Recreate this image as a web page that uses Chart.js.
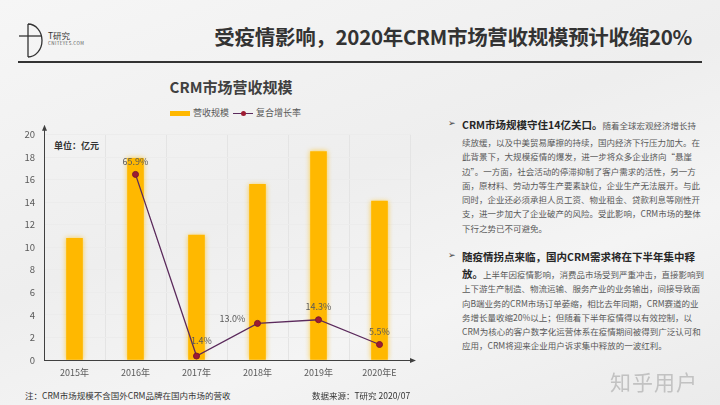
<!DOCTYPE html>
<html>
<head>
<meta charset="utf-8">
<script src="https://cdn.jsdelivr.net/npm/chart.js@4"></script>
<style>
  html, body { margin: 0; padding: 0; }
  body {
    width: 720px; height: 405px; position: relative; overflow: hidden;
    font-family: "Noto Sans CJK SC", "Noto Sans", sans-serif;
    background: linear-gradient(160deg, #f6f6f6 0%, #eeeeee 45%, #f4f4f4 70%, #ebebeb 100%);
  }
  .abs { position: absolute; white-space: nowrap; }
  #title { right: 28px; top: 21px; font-size: 20.5px; font-weight: bold; color: #333; letter-spacing: -0.3px; }
  #rule { left: 18px; top: 61px; width: 684px; height: 2px; background: #333; }
  #logoT { left: 48px; top: 29px; font-size: 8.5px; color: #333; }
  #logoU { left: 48px; top: 40px; font-size: 4.5px; color: #555; letter-spacing: 0.4px; }
  #chartTitle { left: 0; width: 462px; top: 76px; text-align: center; font-size: 15px; font-weight: bold; color: #404040; }
  .leg { top: 106px; font-size: 9px; color: #595959; }
  #unit { left: 54px; top: 139px; font-size: 9px; font-weight: bold; color: #333; }
  #chartBox { position: absolute; left: 0; top: 120px; width: 420px; height: 265px; }
  .para { position: absolute; left: 462px; width: 230px; color: #595959; font-size: 8.5px; }
  .para div { white-space: nowrap; text-align: justify; text-align-last: justify; height: 14.3px; line-height: 14.3px; }
  .para div.first { height: 20px; line-height: 20px; }
  .para b { color: #262626; font-size: 10.5px; }
  .bullet { position: absolute; left: 448px; font-size: 9px; color: #404040; font-family: "DejaVu Sans", sans-serif; }
  .foot { top: 389px; font-size: 8.5px; color: #333; }
  #mark { left: 610px; top: 366px; font-size: 21px; color: #c2c2c2; letter-spacing: 1px; }
</style>
</head>
<body>
<svg class="abs" style="left:17px;top:22px" width="30" height="38">
  <path d="M11 2 L11 35 M11 2 A14 16.5 0 0 1 11 35" fill="none" stroke="#333" stroke-width="1.3"/>
  <path d="M2 14 L25 14" stroke="#333" stroke-width="1.3"/>
</svg>
<div class="abs" id="logoT">T研究</div>
<div class="abs" id="logoU">CNITEYES.COM</div>
<div class="abs" id="title">受疫情影响，2020年CRM市场营收规模预计收缩20%</div>
<div class="abs" id="rule"></div>

<div class="abs" id="chartTitle">CRM市场营收规模</div>
<div class="abs" style="left:170px;top:111px;width:20px;height:5px;background:#FFB800"></div>
<div class="abs leg" style="left:193px">营收规模</div>
<div class="abs" style="left:233px;top:113px;width:20px;height:1.3px;background:#5B2A5C"></div>
<div class="abs" style="left:240.5px;top:111px;width:5px;height:5px;border-radius:50%;background:#9E1B32"></div>
<div class="abs leg" style="left:256px">复合增长率</div>
<div class="abs" id="unit">单位：亿元</div>

<div id="chartBox"><canvas id="c" width="420" height="265"></canvas></div>

<div class="bullet" style="top:118px">➢</div>
<div class="para" style="top:115px">
  <div class="first"><b>CRM市场规模守住14亿关口。</b>随着全球宏观经济增长持</div>
  <div>续放缓，以及中美贸易摩擦的持续，国内经济下行压力加大。在</div>
  <div>此背景下，大规模疫情的爆发，进一步将众多企业挤向“悬崖</div>
  <div>边”。一方面，社会活动的停滞抑制了客户需求的活性，另一方</div>
  <div>面，原材料、劳动力等生产要素缺位，企业生产无法展开。与此</div>
  <div>同时，企业还必须承担人员工资、物业租金、贷款利息等刚性开</div>
  <div>支，进一步加大了企业破产的风险。受此影响，CRM市场的整体</div>
  <div style="text-align-last:left">下行之势已不可避免。</div>
</div>

<div class="bullet" style="top:250px">➢</div>
<div class="para" style="top:247px">
  <div class="first"><b>随疫情拐点来临，国内CRM需求将在下半年集中释</b></div>
  <div><b>放。</b>上半年因疫情影响，消费品市场受到严重冲击，直接影响到</div>
  <div>上下游生产制造、物流运输、服务产业的业务输出，间接导致面</div>
  <div>向B端业务的CRM市场订单萎缩，相比去年同期，CRM赛道的业</div>
  <div>务增长量收缩20%以上；但随着下半年疫情得以有效控制，以</div>
  <div>CRM为核心的客户数字化运营体系在疫情期间被得到广泛认可和</div>
  <div style="text-align-last:left">应用，CRM将迎来企业用户诉求集中释放的一波红利。</div>
</div>

<div class="abs foot" style="left:25px">注：CRM市场规模不含国外CRM品牌在国内市场的营收</div>
<div class="abs foot" style="left:312px">数据来源：T研究 2020/07</div>
<div class="abs" id="mark">知乎用户</div>

<script>
// ================= Data =================
const years = ['2015年', '2016年', '2017年', '2018年', '2019年', '2020年E'];
const revenue = [10.8, 17.9, 11.1, 15.6, 18.5, 14.1];     // 营收规模（亿元）
const growthRate = [null, 65.9, 1.4, 13.0, 14.3, 5.5];    // 复合增长率（%）

const FONT = '"Noto Sans CJK SC", "Noto Sans", sans-serif';

// bars get a soft yellow glow
const glowPlugin = {
  id: 'glow',
  beforeDatasetDraw(chart, args) {
    if (args.index !== 0) return;
    const ctx = chart.ctx;
    ctx.save();
    ctx.shadowColor = 'rgba(255, 190, 0, 0.7)';
    ctx.shadowBlur = 5;
  },
  afterDatasetDraw(chart, args) {
    if (args.index === 0) chart.ctx.restore();
  }
};

// axis lines with arrow heads
const arrowPlugin = {
  id: 'arrows',
  afterDraw(chart) {
    const { ctx, chartArea: a } = chart;
    ctx.save();
    ctx.strokeStyle = '#404040';
    ctx.fillStyle = '#404040';
    ctx.lineWidth = 1;
    ctx.beginPath();
    ctx.moveTo(a.left + 0.5, a.bottom);
    ctx.lineTo(a.left + 0.5, a.top - 6);
    ctx.moveTo(a.left, a.bottom + 0.5);
    ctx.lineTo(a.right + 2, a.bottom + 0.5);
    ctx.stroke();
    ctx.beginPath();
    ctx.moveTo(a.left + 0.5, a.top - 10);
    ctx.lineTo(a.left - 2, a.top - 4);
    ctx.lineTo(a.left + 3, a.top - 4);
    ctx.closePath();
    ctx.moveTo(a.right + 6, a.bottom + 0.5);
    ctx.lineTo(a.right, a.bottom - 2);
    ctx.lineTo(a.right, a.bottom + 3);
    ctx.closePath();
    ctx.fill();
    ctx.restore();
  }
};

// percent labels next to the line points
const labelOffsets = [[0, 0], [0, -13], [5, -15], [-25, -5], [0, -13], [0, -13]];
const rateLabelPlugin = {
  id: 'rateLabels',
  afterDatasetsDraw(chart) {
    const ctx = chart.ctx;
    const meta = chart.getDatasetMeta(1);
    ctx.save();
    ctx.font = '9px ' + FONT;
    ctx.fillStyle = '#595959';
    ctx.textAlign = 'center';
    ctx.textBaseline = 'middle';
    meta.data.forEach((pt, i) => {
      if (growthRate[i] === null) return;
      ctx.fillText(growthRate[i].toFixed(1) + '%', pt.x + labelOffsets[i][0], pt.y + labelOffsets[i][1]);
    });
    ctx.restore();
  }
};

new Chart(document.getElementById('c'), {
  type: 'bar',
  data: {
    labels: years,
    datasets: [
      {
        type: 'bar',
        label: '营收规模',
        data: revenue,
        backgroundColor: '#FFB800',
        barThickness: 16,
        yAxisID: 'y',
        order: 1
      },
      {
        type: 'line',
        label: '复合增长率',
        data: growthRate,
        borderColor: '#5B2A5C',
        borderWidth: 1.3,
        pointRadius: 3,
        pointBackgroundColor: '#9E1B32',
        pointBorderColor: '#7A1A2E',
        pointBorderWidth: 1,
        tension: 0,
        spanGaps: false,
        yAxisID: 'y1',
        order: 0
      }
    ]
  },
  options: {
    responsive: false,
    animation: false,
    devicePixelRatio: 1,
    layout: { padding: { top: 12, right: 10, left: 0, bottom: 0 } },
    plugins: {
      legend: { display: false },
      tooltip: { enabled: false }
    },
    scales: {
      x: {
        offset: true,
        grid: { color: '#e4e4e4', offset: true, drawTicks: false },
        border: { display: false },
        ticks: { color: '#595959', font: { size: 9, family: FONT }, padding: 7 },
        afterFit(scale) { scale.height = 25; }
      },
      y: {
        min: 0,
        max: 20,
        grid: { color: '#ececec', drawTicks: false },
        border: { display: false },
        ticks: { stepSize: 2, color: '#595959', font: { size: 9.5, family: FONT }, padding: 9 },
        afterFit(scale) { scale.width = 44; }
      },
      y1: {
        display: false,
        min: 0,
        max: 80
      }
    }
  },
  plugins: [glowPlugin, arrowPlugin, rateLabelPlugin]
});
</script>
</body>
</html>
